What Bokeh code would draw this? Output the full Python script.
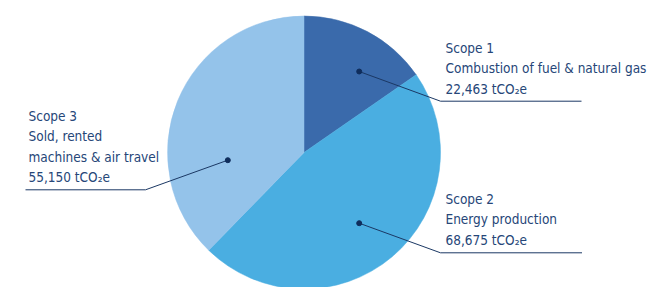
import math
from bokeh.plotting import figure
from bokeh.models import Range1d, ColumnDataSource
from bokeh.core.properties import value
from bokeh.embed import file_html
from bokeh.resources import INLINE

# ---- data ----
scopes = ["Scope 1", "Scope 2", "Scope 3"]
descriptions = [["Combustion of fuel & natural gas"],
                ["Energy production"],
                ["Sold, rented", "machines & air travel"]]
emissions = [22463, 68675, 55150]
colors = ["#3a6aab", "#4aaee1", "#94c3ea"]

W, H = 649, 287
PH = 287

def Y(py):
    return PH - py

p = figure(width=W, height=H, output_backend="svg", toolbar_location=None,
           x_range=Range1d(0, W), y_range=Range1d(Y(H), Y(0)),
           min_border=0, outline_line_color=None)
p.axis.visible = False
p.grid.visible = False
p.background_fill_color = "white"

total = sum(emissions)
starts, ends = [], []
cum = 0.0
for v in emissions:
    starts.append(math.pi / 2 - 2 * math.pi * cum / total)
    cum += v
    ends.append(math.pi / 2 - 2 * math.pi * cum / total)

cx, cy, r = 303.5, Y(152), 136.5
src = ColumnDataSource(dict(start=starts, end=ends, color=colors))
p.wedge(x=cx, y=cy, radius=r, start_angle="start", end_angle="end",
        direction="clock", fill_color="color", line_color="color", line_width=0.5,
        source=src)

# leader lines & dots (layout)
line_col = "#1b3864"
leaders = [
    [(358.7, 71), (440, 100.7), (581, 100.7)],
    [(358.7, 222.7), (440, 252.3), (581.5, 252.3)],
    [(227.3, 159.7), (145, 189.3), (25, 189.3)],
]
for pts in leaders:
    p.line([q[0] for q in pts], [Y(q[1]) for q in pts], line_color=line_col, line_width=1)
    p.scatter([pts[0][0]], [Y(pts[0][1])], size=5, color="#0f2d5c")

# labels
txt_col = "#264678"
font = value("DejaVu Sans Condensed")
label_pos = [(445, 47), (445, 198), (28, 115)]
step = 20.5
for i, (lx, ly) in enumerate(label_pos):
    lines = [scopes[i]] + descriptions[i] + ["{:,} tCO\u2082e".format(emissions[i])]
    ys = [Y(ly + k * step) for k in range(len(lines))]
    p.text(x=[lx] * len(lines), y=ys, text=lines, text_font=font,
           text_font_size="13.5px", text_color=txt_col,
           text_baseline="middle", text_align="left")

open("out.html", "w").write(file_html(p, INLINE))
